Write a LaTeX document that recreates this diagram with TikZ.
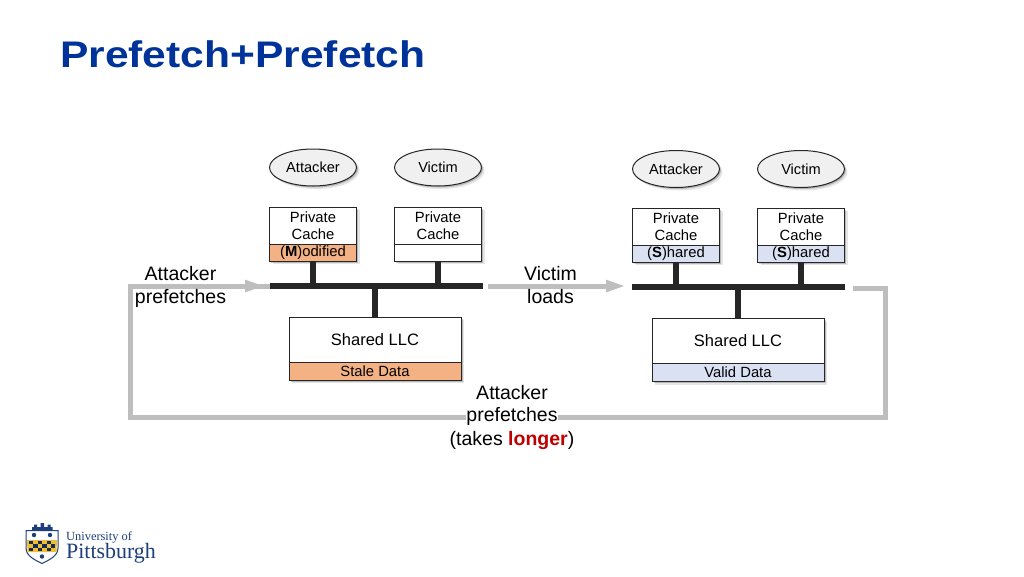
\documentclass[tikz,border=0pt]{standalone}
\usepackage{xcolor}
\usepackage{fontspec}
\setmainfont{Liberation Sans}
\newfontfamily\crestfont{Liberation Serif}
\usetikzlibrary{arrows.meta}
\usetikzlibrary{positioning}
\usetikzlibrary{shadows}
\usetikzlibrary{shapes.geometric}
\definecolor{titleblue}{RGB}{0,51,153}
\definecolor{crestblue}{RGB}{28,63,124}
\definecolor{crestgold}{RGB}{240,190,50}
\definecolor{staleorange}{RGB}{244,177,131}
\definecolor{validblue}{RGB}{217,225,242}
\definecolor{flowgray}{RGB}{190,190,190}
\definecolor{busblack}{RGB}{38,38,38}
\definecolor{longerred}{RGB}{192,0,0}
\begin{document}
\begin{tikzpicture}[x=1pt,y=-1pt,>={Triangle[length=20pt,width=11pt]},node distance=23.5pt]
	\tikzstyle{softshadow}=[drop shadow={shadow xshift=3pt,shadow yshift=-3pt,fill=black,opacity=.1}, drop shadow={shadow xshift=1.5pt,shadow yshift=-1.5pt,fill=black,opacity=.2}]
	\tikzstyle{core}=[draw=busblack, line width=1pt, ellipse, fill=black!6, minimum width=87pt, minimum height=37pt, inner sep=0pt, outer sep=0pt, font=\fontsize{14.6}{17.5}\selectfont, softshadow]
	\tikzstyle{cache}=[draw=busblack, line width=1pt, fill=white, minimum width=87pt, minimum height=37pt, inner sep=0pt, outer sep=0pt, align=center, font=\fontsize{14.8}{17.5}\selectfont, softshadow]
	\tikzstyle{state}=[cache, minimum height=17pt]
	\tikzstyle{llc}=[cache, minimum width=172pt, minimum height=45pt, font=\fontsize{16.5}{19}\selectfont]
	\tikzstyle{llcdata}=[cache, minimum width=172pt, minimum height=18pt]
	\tikzstyle{bus}=[fill=busblack, minimum width=213pt, minimum height=6pt, inner sep=0pt, outer sep=0pt]
	\tikzstyle{link}=[draw=busblack, line width=6pt]
	\tikzstyle{flow}=[draw=flowgray, line width=5pt, miter limit=10]
	\tikzstyle{caption}=[align=center, inner sep=0pt, font=\fontsize{19.5}{23.5}\selectfont]

	\useasboundingbox[fill=white] (0,0) rectangle (1024,576);

	\node[anchor=west, inner sep=0pt, text=titleblue, font=\fontsize{37}{40}\selectfont\bfseries] (title) at (60,54) {\scalebox{1.15}[1]{Prefetch+Prefetch}};

	% left system
	\node[core] (attackerL) at (313,167.5) {Attacker};
	\node[core] (victimL) at (438,167.5) {Victim};
	\node[cache] (cacheAL) at (313,225.5) {Private\\Cache};
	\node[state, fill=staleorange, below=0pt of cacheAL] (stateAL) {(\textbf{M})odified};
	\node[cache] (cacheVL) at (438,225.5) {Private\\Cache};
	\node[state, below=0pt of cacheVL] (stateVL) {};
	\node[bus] (busL) at (376.5,286) {};
	\node[llc] (llcL) at (375,339.5) {Shared LLC};
	\node[llcdata, fill=staleorange, below=0pt of llcL] (dataL) {Stale Data};
	\path[link]
		(stateAL) edge (stateAL |- busL)
		(stateVL) edge (stateVL |- busL)
		(llcL) edge (llcL |- busL);

	% right system
	\node[core] (attackerR) at (676,169) {Attacker};
	\node[core] (victimR) at (801,169) {Victim};
	\node[cache] (cacheAR) at (676,226.5) {Private\\Cache};
	\node[state, fill=validblue, below=0pt of cacheAR] (stateAR) {(\textbf{S})hared};
	\node[cache] (cacheVR) at (801,226.5) {Private\\Cache};
	\node[state, fill=validblue, below=0pt of cacheVR] (stateVR) {\raisebox{-1.5pt}{(\textbf{S})hared}};
	\node[bus] (busR) at (738.5,287) {};
	\node[llc] (llcR) at (738,341) {Shared LLC};
	\node[llcdata, fill=validblue, below=0pt of llcR] (dataR) {Valid Data};
	\path[link]
		(stateAR) edge (stateAR |- busR)
		(stateVR) edge (stateVR |- busR)
		(llcR) edge (llcR |- busR);

	% gray arrows
	\coordinate (loopNE) at (885,288);
	\coordinate (loopSE) at (885,417);
	\coordinate (loopSW) at (130,417);
	\coordinate (loopNW) at (130,286);
	\draw[flow, shorten <=8pt] (busR.east |- loopNE) -- (loopNE) -- (loopSE) -- (loopSW) -- (loopNW) -- (loopNW -| busL.west);
	\draw[-{>}, flow, shorten >=5pt] (181,286) -- (busL.west);
	\draw[-{>}, flow, shorten <=5pt, shorten >=6pt] (busL.east) -- (busR.west |- busL);

	% labels
	\node[caption] (labelL) at (180.5,287) {Attacker\\prefetches};
	\node[caption] (labelM) at (550.5,285) {Victim\\loads};
	\node[caption, fill=white] (labelB) at (512,416.5) {prefetches};
	\node[caption, above of=labelB] (labelA) {Attacker};
	\node[caption, below of=labelB] (labelC) {(takes \textcolor{longerred}{\textbf{longer}})};

	% logo
	\fill[crestblue] (32,531) -- (32,527) -- (34,527) -- (34,524.5) -- (37,524.5) -- (37,527) -- (40.5,527) -- (40.5,523) -- (44,523) -- (44,527) -- (47.5,527) -- (47.5,524.5) -- (50.5,524.5) -- (50.5,527) -- (52.5,527) -- (52.5,531) -- cycle;
	\draw[crestblue, line width=1pt, fill=white] (26,530.5) -- (58,530.5) -- (58,548) .. controls (58,556) and (49,560) .. (42,563.5) .. controls (35,560) and (26,556) .. (26,548) -- cycle;
	\fill[crestgold] (27,540) -- (57,540) -- (56.5,552) -- (27.5,552) -- cycle;
	\foreach \col in {0,...,5} {
		\foreach \row in {0,1,2} {
			\pgfmathparse{int(mod(\col+\row,2))}
			\ifnum\pgfmathresult=0
				\fill[crestblue!70!black] (29+4.4*\col,541+3.4*\row) rectangle ++(4.4,3.4);
			\fi
		}
	}
	\fill[crestblue] (34,535) circle (2.2);
	\fill[crestblue] (50,535) circle (2.2);
	\fill[crestblue] (42,556.5) circle (2.2);
	\node[anchor=base west, inner sep=0pt, text=crestblue, font=\crestfont\fontsize{12.4}{14}\selectfont] (logoA) at (66,540) {University of};
	\node[anchor=base west, inner sep=0pt, text=crestblue, font=\crestfont\fontsize{21.9}{24}\selectfont] (logoB) at (66,558) {Pittsburgh};
\end{tikzpicture}
\end{document}
